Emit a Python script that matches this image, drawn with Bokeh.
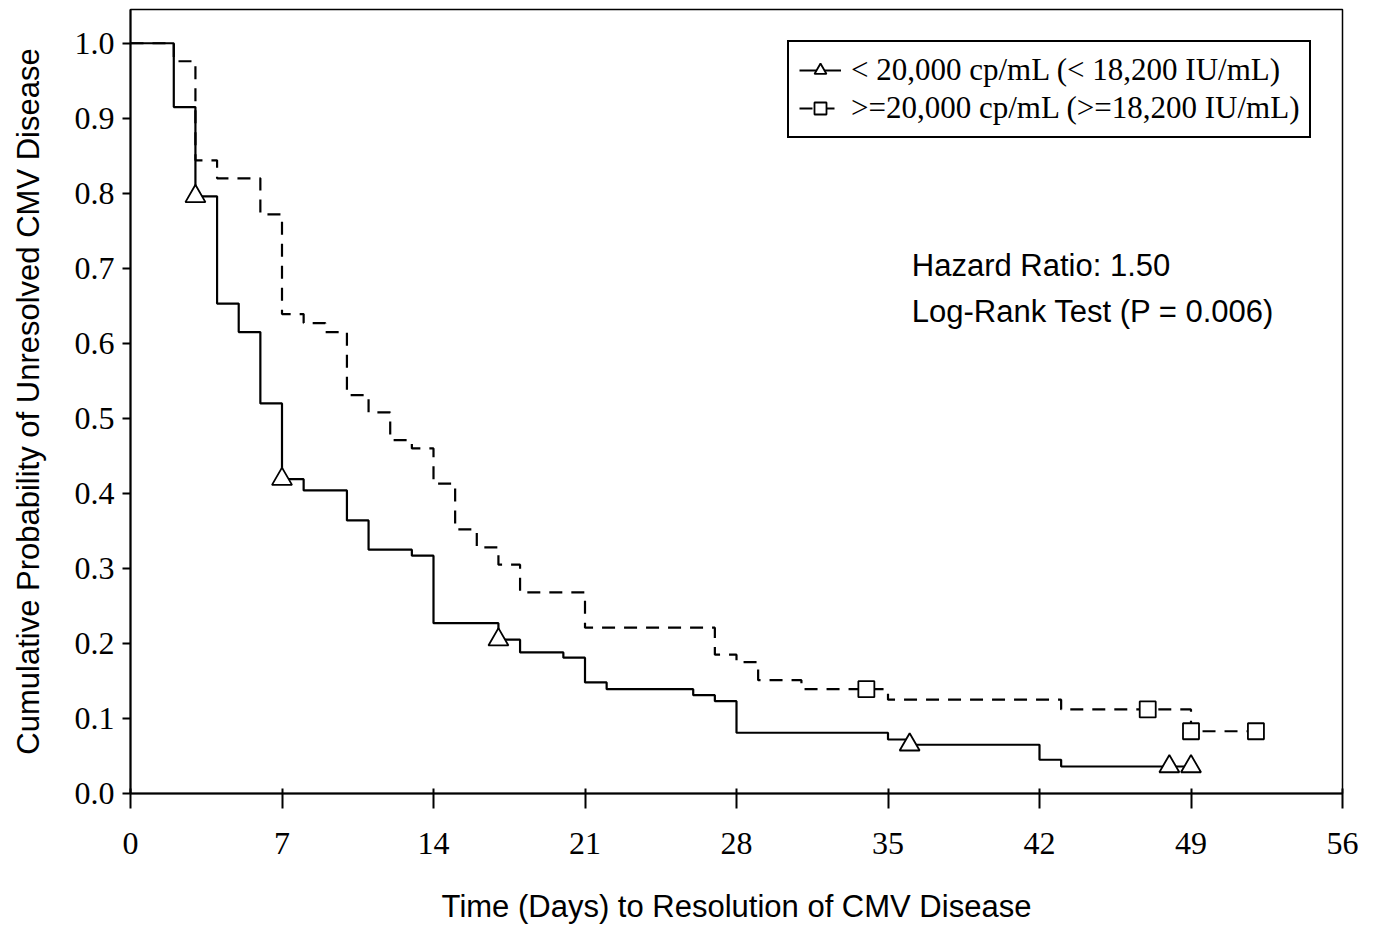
from bokeh.plotting import figure
from bokeh.models import Range1d, FixedTicker, Legend, LegendItem, Label, PrintfTickFormatter
from bokeh.embed import file_html
from bokeh.resources import INLINE

# ---- data ----
days_low = [0, 2, 3, 4, 5, 6, 7, 8, 10, 11, 13, 14, 17, 18, 20, 21, 22, 26, 27, 28, 35, 36, 42, 43, 49]
surv_low = [1.0, 0.915, 0.796, 0.653, 0.615, 0.52, 0.419, 0.404, 0.364, 0.325, 0.317, 0.227, 0.205,
            0.188, 0.181, 0.148, 0.139, 0.131, 0.123, 0.081, 0.072, 0.065, 0.045, 0.036, 0.036]
cens_low_days = [3, 7, 17, 36, 48, 49]
cens_low_surv = [0.796, 0.419, 0.205, 0.065, 0.036, 0.036]

days_high = [0, 2, 3, 4, 6, 7, 8, 9, 10, 11, 12, 13, 14, 15, 16, 17, 18, 21, 27, 28, 29, 31, 35, 43, 49, 52]
surv_high = [1.0, 0.976, 0.844, 0.82, 0.772, 0.639, 0.627, 0.615, 0.531, 0.508, 0.471, 0.46, 0.413,
             0.352, 0.328, 0.305, 0.268, 0.221, 0.185, 0.175, 0.151, 0.139, 0.125, 0.112, 0.083, 0.083]
cens_high_days = [34, 47, 49, 52]
cens_high_surv = [0.139, 0.112, 0.083, 0.083]

x_ticks = [0, 7, 14, 21, 28, 35, 42, 49, 56]
y_ticks = [0.0, 0.1, 0.2, 0.3, 0.4, 0.5, 0.6, 0.7, 0.8, 0.9, 1.0]
series_names = ["< 20,000 cp/mL (< 18,200 IU/mL)", ">=20,000 cp/mL (>=18,200 IU/mL)"]
stats_text = ["Hazard Ratio: 1.50", "Log-Rank Test (P = 0.006)"]
x_title = "Time (Days) to Resolution of CMV Disease"
y_title = "Cumulative Probability of Unresolved CMV Disease"

SERIF = "Liberation Serif"
SANS = "Liberation Sans"

p = figure(width=1375, height=926, output_backend="svg", toolbar_location=None,
           x_range=Range1d(0, 56), y_range=Range1d(0, 1.045),
           min_border_left=130, min_border_right=33, min_border_top=9, min_border_bottom=133)
p.xgrid.visible = False
p.ygrid.visible = False
p.outline_line_color = "black"
p.outline_line_width = 1.5
p.outline_line_alpha = 1
p.background_fill_color = "white"
p.border_fill_color = "white"

# axes
p.xaxis.ticker = FixedTicker(ticks=x_ticks)
p.yaxis.ticker = FixedTicker(ticks=y_ticks)
p.yaxis.formatter = PrintfTickFormatter(format="%.1f")
for ax in (p.xaxis[0], p.yaxis[0]):
    ax.axis_line_color = "black"
    ax.axis_line_width = 2
    ax.major_tick_line_color = "black"
    ax.major_tick_line_width = 2
    ax.minor_tick_line_color = None
    ax.major_label_text_font = SERIF
    ax.major_label_text_font_size = "32px"
    ax.major_label_text_color = "black"
    ax.axis_label_text_font = SANS
    ax.axis_label_text_font_size = "31px"
    ax.axis_label_text_font_style = "normal"
    ax.axis_label_text_color = "black"
p.xaxis.major_tick_out = 15
p.xaxis.major_tick_in = 5
p.xaxis.major_label_standoff = 24
p.xaxis.axis_label = x_title
p.xaxis.axis_label_standoff = 32
p.yaxis.major_tick_out = 8
p.yaxis.major_tick_in = 0
p.yaxis.major_label_standoff = 8
p.yaxis.axis_label = y_title
p.yaxis.axis_label_standoff = 26

# curves
l_low = p.step(days_low, surv_low, mode="after", line_color="black", line_width=2.2)
l_high = p.step(days_high, surv_high, mode="after", line_color="black", line_width=2.2, line_dash="13 9")
m_low = p.scatter(cens_low_days, cens_low_surv, marker="triangle", size=20,
                  fill_color="white", line_color="black", line_width=1.8)
m_high = p.scatter(cens_high_days, cens_high_surv, marker="square", size=16,
                   fill_color="white", line_color="black", line_width=1.8)

legend = Legend(items=[LegendItem(label=series_names[0], renderers=[l_low, m_low]),
                       LegendItem(label=series_names[1], renderers=[l_high, m_high])],
                location=(657, 655))
legend.label_text_font = SERIF
legend.label_text_font_size = "31px"
legend.label_text_color = "black"
legend.glyph_width = 42
legend.glyph_height = 30
legend.label_standoff = 10
legend.padding = 10
legend.spacing = 2
legend.margin = 0
legend.border_line_color = "black"
legend.border_line_alpha = 1
legend.border_line_width = 2
legend.background_fill_alpha = 1
p.add_layout(legend, "center")

p.add_layout(Label(x=36.1, y=0.704, text=stats_text[0], text_font=SANS, text_font_size="31px",
                   text_baseline="middle", text_color="black"))
p.add_layout(Label(x=36.1, y=0.643, text=stats_text[1], text_font=SANS, text_font_size="31px",
                   text_baseline="middle", text_color="black"))

open("out.html", "w").write(file_html(p, INLINE))
